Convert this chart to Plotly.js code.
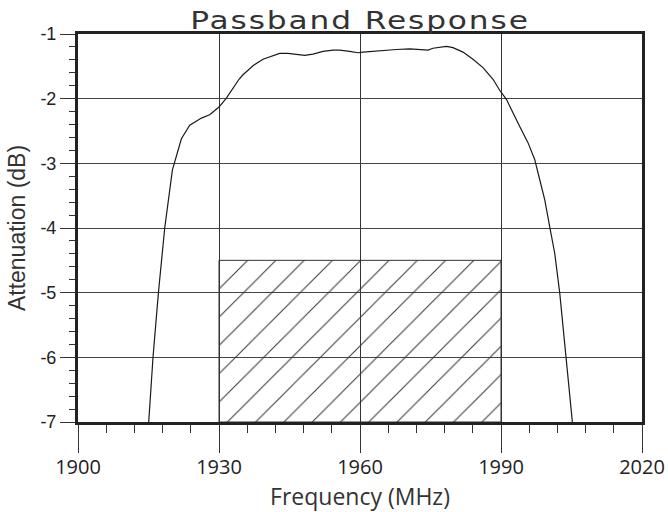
<!DOCTYPE html>
<html>
<head>
<meta charset="utf-8">
<script src="https://cdn.plot.ly/plotly-3.0.1.min.js"></script>
<style>
  html, body { margin: 0; padding: 0; background: #fff; }
  #chart { width: 668px; height: 512px; }
  .gtitle { letter-spacing: 1.5px; transform-box: fill-box; transform-origin: center; transform: scaleX(1.25); }
</style>
</head>
<body>
<div id="chart"></div>
<script>
// Passband response curve (frequency in MHz, attenuation in dB)
var freq = [1915.0, 1915.96, 1917.11, 1918.45, 1920.09, 1922.0, 1923.77, 1926.26, 1928.02, 1930.0,
            1931.57, 1932.98, 1934.26, 1935.11, 1937.23, 1939.36, 1941.49, 1942.91, 1944.68, 1946.47,
            1948.23, 1950.0, 1952.13, 1954.26, 1955.68, 1957.81, 1959.57, 1960.64, 1962.06, 1964.89,
            1967.74, 1970.57, 1972.70, 1974.47, 1975.53, 1976.96, 1978.38, 1979.79, 1981.91, 1984.04,
            1986.17, 1988.30, 1989.72, 1991.15, 1991.85, 1993.98, 1995.74, 1997.17, 1998.23, 1999.30,
            2000.36, 2001.43, 2002.49, 2003.19, 2003.91, 2004.62, 2005.25];
var atten = [-7.05, -6.00, -5.00, -4.00, -3.10, -2.62, -2.41, -2.30, -2.25, -2.13,
             -1.99, -1.83, -1.70, -1.63, -1.49, -1.39, -1.33, -1.30, -1.30, -1.32,
             -1.33, -1.31, -1.27, -1.25, -1.25, -1.27, -1.29, -1.28, -1.27, -1.26,
             -1.24, -1.23, -1.24, -1.25, -1.22, -1.20, -1.19, -1.21, -1.28, -1.39,
             -1.52, -1.70, -1.87, -2.01, -2.12, -2.43, -2.68, -2.94, -3.25, -3.56,
             -3.98, -4.39, -5.00, -5.52, -6.00, -6.50, -7.05];

// Hatched specification mask
var maskFreq = [1930, 1990];
var maskTop = -4.5;
var maskBottom = -7;

// Axis ticks
var xTicks = [1900, 1930, 1960, 1990, 2020];
var yTicks = [-7, -6, -5, -4, -3, -2, -1];

var maskX = [maskFreq[0], maskFreq[0], maskFreq[1], maskFreq[1], maskFreq[0]];
var maskY = [maskBottom, maskTop, maskTop, maskBottom, maskBottom];

var traces = [
  {
    x: maskX, y: maskY, type: 'scatter', mode: 'lines',
    fill: 'toself', fillcolor: 'rgba(0,0,0,0)',
    fillpattern: { shape: '/', size: 20, solidity: 0.05, fgcolor: '#333', bgcolor: 'rgba(0,0,0,0)' },
    line: { color: '#333', width: 1 },
    hoverinfo: 'skip', showlegend: false
  },
  {
    x: freq, y: atten, type: 'scatter', mode: 'lines',
    line: { color: '#1a1a1a', width: 1.2 },
    showlegend: false
  }
];

var layout = {
  width: 668, height: 512,
  margin: { l: 78, r: 26, t: 34, b: 90 },
  paper_bgcolor: '#fff', plot_bgcolor: '#fff',
  showlegend: false,
  title: {
    text: 'Passband Response',
    font: { family: 'DejaVu Sans', size: 25, color: '#333' },
    x: 0.5, xref: 'paper', y: 1, yref: 'paper', yanchor: 'bottom',
    pad: { b: 5 }
  },
  xaxis: {
    range: [1900, 2020], tickvals: xTicks, ticktext: xTicks.map(String),
    ticks: 'outside', ticklen: 28, tickwidth: 1, tickcolor: '#333',
    minor: { dtick: 6, tick0: 1900, ticks: 'outside', ticklen: 8, tickwidth: 1, tickcolor: '#333', showgrid: false },
    showline: true, linewidth: 3, linecolor: '#222', mirror: true,
    showgrid: true, gridcolor: '#333', gridwidth: 1,
    zeroline: false,
    ticklabelstandoff: -3,
    tickfont: { family: 'Open Sans', size: 20, color: '#222' },
    title: { text: 'Frequency (MHz)', font: { family: 'Open Sans', size: 23, color: '#333' }, standoff: 0 }
  },
  yaxis: {
    range: [-7, -1], tickvals: yTicks, ticktext: yTicks.map(String),
    ticks: 'outside', ticklen: 15, tickwidth: 1, tickcolor: '#333',
    minor: { dtick: 0.2, tick0: -7, ticks: 'outside', ticklen: 6, tickwidth: 1, tickcolor: '#333', showgrid: false },
    showline: true, linewidth: 3, linecolor: '#222', mirror: true,
    showgrid: true, gridcolor: '#444', gridwidth: 1,
    zeroline: false,
    tickfont: { family: 'Liberation Sans', size: 18, color: '#222' },
    title: { text: 'Attenuation (dB)', font: { family: 'Liberation Sans', size: 23, color: '#333' }, standoff: 9 }
  }
};

Plotly.newPlot('chart', traces, layout, { displayModeBar: false, staticPlot: true });
</script>
</body>
</html>
